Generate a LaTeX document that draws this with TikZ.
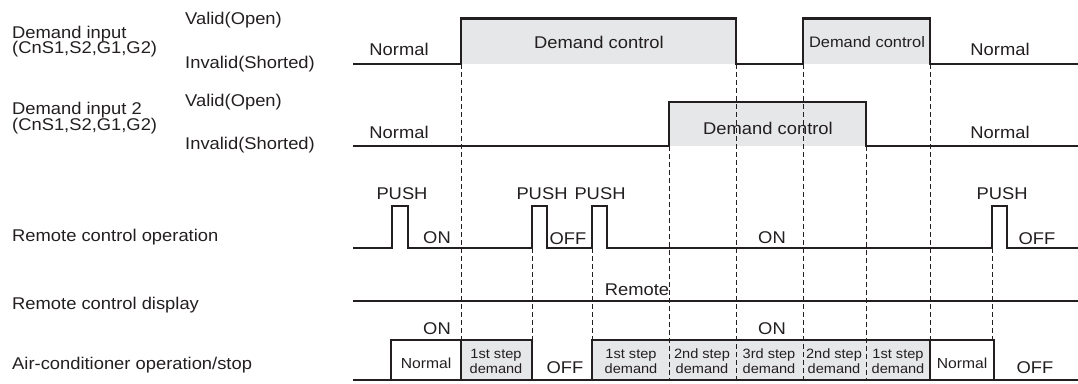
\documentclass[tikz,border=0pt]{standalone}
\usepackage{fontspec}
\setmainfont{Liberation Sans}[FakeStretch=1.08]
\usepackage{xcolor}
\definecolor{bandgray}{HTML}{E6E7E8}
\definecolor{ink}{HTML}{231F20}

\begin{document}
\begin{tikzpicture}[
  x=1pt,y=-1pt,
  every node/.style={text=ink,inner sep=0pt},
  lbl/.style={font=\fontsize{17}{17}\selectfont,anchor=base west},
  txt/.style={font=\fontsize{17}{17}\selectfont,anchor=base},
  small/.style={font=\fontsize{14.5}{15}\selectfont,anchor=base},
  stp/.style={align=center,font=\fontsize{13.5}{15}\selectfont},
  band/.style={fill=bandgray},
  sig/.style={draw=ink,line width=2.4pt},
  displine/.style={draw=ink,line width=1.2pt},
  guide/.style={draw=ink,line width=1pt,dash pattern=on 5pt off 3pt}
]
\useasboundingbox (0,0) rectangle (1078,383);

\path[band] (461,18.5) rectangle (736,64);
\path[band] (803,18.5) rectangle (930,64);
\path[band] (669,102) rectangle (866,146);
\path[band] (461,340) rectangle (532,380);
\path[band] (592,340) rectangle (930,380);

\node[lbl] (din1) at (12,38) {Demand input};
\node[lbl] (din1b) at (12,53) {(CnS1,S2,G1,G2)};
\node[lbl] (val1) at (185,24) {Valid(Open)};
\node[lbl] (inv1) at (185,68) {Invalid(Shorted)};
\node[lbl] (din2) at (12,114) {Demand input 2};
\node[lbl] (din2b) at (12,130) {(CnS1,S2,G1,G2)};
\node[lbl] (val2) at (185,106) {Valid(Open)};
\node[lbl] (inv2) at (185,149) {Invalid(Shorted)};
\node[lbl] (rcop) at (12,241) {Remote control operation};
\node[lbl] (rcdisp) at (12,309) {Remote control display};
\node[lbl] (acop) at (12,369) {Air-conditioner operation/stop};

\node[txt] (n1a) at (399,55) {Normal};
\node[txt] (dc1a) at (599,48) {Demand control};
\node[txt,font=\fontsize{15.2}{15}\selectfont] (dc1b) at (867,47.5) {Demand control};
\node[txt] (n1b) at (1000,55) {Normal};
\node[txt] (n2a) at (399,138) {Normal};
\node[txt] (dc2) at (768,134) {Demand control};
\node[txt] (n2b) at (1000,138) {Normal};

\node[txt] (push1) at (402,199) {PUSH};
\node[txt] (push2) at (542,199) {PUSH};
\node[txt] (push3) at (600,199) {PUSH};
\node[txt] (push4) at (1002,199) {PUSH};
\node[txt] (on1) at (437,243) {ON};
\node[txt] (off1) at (568,244) {OFF};
\node[txt] (on2) at (772,243) {ON};
\node[txt] (off2) at (1037,244) {OFF};
\node[txt] (remote) at (637,295) {Remote};
\node[txt] (on3) at (437,334) {ON};
\node[txt] (on4) at (772,334) {ON};

\node[small] (acn1) at (426,368) {Normal};
\node[stp] (st1) at (496,361) {1st step\\demand};
\node[txt] (acoff1) at (565,373) {OFF};
\node[stp] (st2) at (631,361) {1st step\\demand};
\node[stp] (st3) at (702,361) {2nd step\\demand};
\node[stp] (st4) at (769,361) {3rd step\\demand};
\node[stp] (st5) at (834,361) {2nd step\\demand};
\node[stp] (st6) at (898,361) {1st step\\demand};
\node[small] (acn2) at (962,368) {Normal};
\node[txt] (acoff2) at (1035,373) {OFF};

\foreach \x/\a/\b in {461/64/340,532/248/340,592/248/340,669/146/380,736/64/380,
  803/64/380,866/146/380,930/64/340,992/248/340}
  \draw[guide] (\x,\a) -- (\x,\b);

\draw[sig] (353,64) -- (461,64) -- (461,18.5) -- (736,18.5) -- (736,64) -- (803,64)
  -- (803,18.5) -- (930,18.5) -- (930,64) -- (1078,64);
\draw[sig] (353,146) -- (669,146) -- (669,102) -- (866,102) -- (866,146) -- (1078,146);
\draw[sig] (353,248) -- (392,248) -- (392,206) -- (408,206) -- (408,248) -- (532,248)
  -- (532,206) -- (547,206) -- (547,248) -- (592,248) -- (592,206) -- (607,206)
  -- (607,248) -- (992,248) -- (992,206) -- (1007,206) -- (1007,248) -- (1078,248);
\draw[displine] (353,301) -- (1078,301);
\draw[sig] (353,380) -- (1078,380);
\draw[sig] (391,380) -- (391,340) -- (532,340) -- (532,380);
\draw[sig] (592,380) -- (592,340) -- (994,340) -- (994,380);
\draw[sig] (461,340) -- (461,380);
\draw[sig] (930,340) -- (930,380);
\end{tikzpicture}
\end{document}
